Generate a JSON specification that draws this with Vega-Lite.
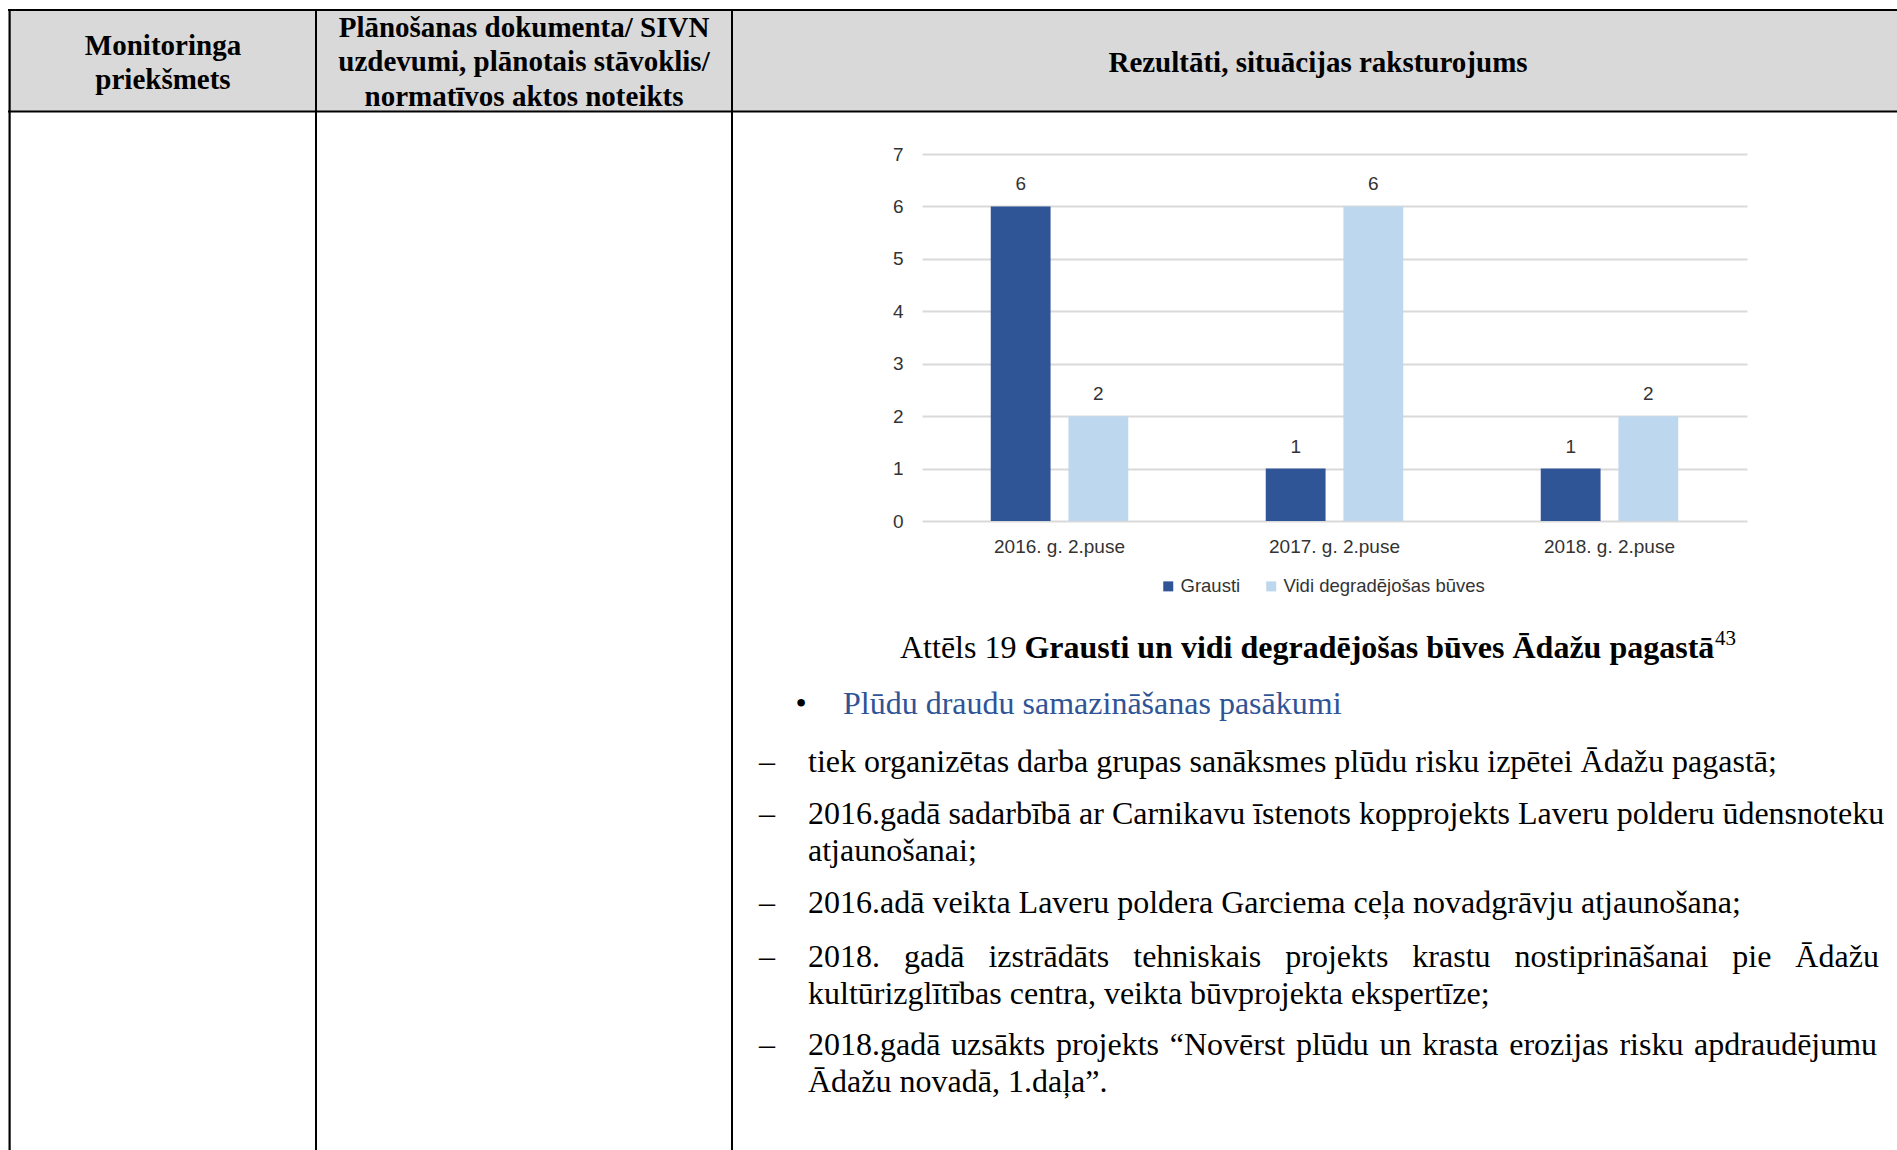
{
  "$schema": "https://vega.github.io/schema/vega-lite/v6.json",
  "width": 825,
  "height": 367,
  "autosize": {"type": "none"},
  "padding": {"left": 922, "top": 154, "right": 150, "bottom": 629},
  "background": "#ffffff",
  "config": {"view": {"stroke": null}},
  "datasets": {
    "bars": [
      {"period": "2016. g. 2.puse", "series": "Grausti", "value": 6},
      {"period": "2016. g. 2.puse", "series": "Vidi degradējošas būves", "value": 2},
      {"period": "2017. g. 2.puse", "series": "Grausti", "value": 1},
      {"period": "2017. g. 2.puse", "series": "Vidi degradējošas būves", "value": 6},
      {"period": "2018. g. 2.puse", "series": "Grausti", "value": 1},
      {"period": "2018. g. 2.puse", "series": "Vidi degradējošas būves", "value": 2}
    ]
  },
  "layer": [
    {"data": {"values": [{}]}, "mark": {"type": "rect", "x": -912, "x2": 975, "y": -144, "y2": -43, "fill": "#D9D9D9"}, "encoding": {}},
    {"data": {"values": [{}]}, "mark": {"type": "rect", "x": -914, "x2": 975, "y": -145, "y2": -143, "fill": "#000000"}, "encoding": {}},
    {"data": {"values": [{}]}, "mark": {"type": "rect", "x": -914, "x2": 975, "y": -43.5, "y2": -41.5, "fill": "#000000"}, "encoding": {}},
    {"data": {"values": [{}]}, "mark": {"type": "rect", "x": -913.5, "x2": -911.3, "y": -145, "y2": 1000, "fill": "#000000"}, "encoding": {}},
    {"data": {"values": [{}]}, "mark": {"type": "rect", "x": -607, "x2": -605, "y": -145, "y2": 1000, "fill": "#000000"}, "encoding": {}},
    {"data": {"values": [{}]}, "mark": {"type": "rect", "x": -191, "x2": -189, "y": -145, "y2": 1000, "fill": "#000000"}, "encoding": {}},
    {"data": {"values": [{}]}, "mark": {"type": "text", "text": ["Monitoringa", "priekšmets"], "x": -759, "y": -99.4, "align": "center", "baseline": "alphabetic", "lineHeight": 34, "font": "Liberation Serif", "fontWeight": "bold", "fontSize": 29, "fill": "#000000"}, "encoding": {}},
    {"data": {"values": [{}]}, "mark": {"type": "text", "text": ["Plānošanas dokumenta/ SIVN", "uzdevumi, plānotais stāvoklis/", "normatīvos aktos noteikts"], "x": -398, "y": -117.4, "align": "center", "baseline": "alphabetic", "lineHeight": 34.5, "font": "Liberation Serif", "fontWeight": "bold", "fontSize": 29, "fill": "#000000"}, "encoding": {}},
    {"data": {"values": [{}]}, "mark": {"type": "text", "text": "Rezultāti, situācijas raksturojums", "x": 396, "y": -82.4, "align": "center", "baseline": "alphabetic", "font": "Liberation Serif", "fontWeight": "bold", "fontSize": 29, "fill": "#000000"}, "encoding": {}},
    {
      "data": {"name": "bars"},
      "mark": {"type": "bar"},
      "encoding": {
        "x": {"field": "period", "type": "nominal", "scale": {"paddingInner": 0.5, "paddingOuter": 0.25},
          "axis": {"title": null, "labelAngle": 0, "domain": false, "ticks": false, "tickSize": 0, "labelPadding": 16, "labelFont": "Liberation Sans", "labelFontSize": 19, "labelColor": "#333333", "grid": false}},
        "xOffset": {"field": "series", "type": "nominal", "scale": {"paddingInner": 0.23, "paddingOuter": 0}},
        "y": {"field": "value", "type": "quantitative", "scale": {"domain": [0, 7], "nice": false},
          "axis": {"title": null, "values": [0, 1, 2, 3, 4, 5, 6, 7], "format": "d", "grid": true, "gridColor": "#D9D9D9", "gridWidth": 2, "domain": false, "ticks": false, "tickSize": 0, "labelPadding": 19, "labelFont": "Liberation Sans", "labelFontSize": 19, "labelColor": "#333333"}},
        "color": {"field": "series", "type": "nominal", "scale": {"domain": ["Grausti", "Vidi degradējošas būves"], "range": ["#2F5597", "#BDD7EE"]},
          "legend": {"title": null, "orient": "none", "legendX": 237, "legendY": 423, "direction": "horizontal", "symbolType": "square", "symbolSize": 100, "symbolStrokeWidth": 0, "labelOffset": 3, "labelFont": "Liberation Sans", "labelFontSize": 18.5, "labelColor": "#333333", "columnPadding": 21, "labelLimit": 400}}
      }
    },
    {
      "data": {"name": "bars"},
      "mark": {"type": "text", "baseline": "bottom", "dy": -12, "font": "Liberation Sans", "fontSize": 19, "fill": "#333333"},
      "encoding": {
        "x": {"field": "period", "type": "nominal"},
        "xOffset": {"field": "series", "type": "nominal"},
        "y": {"field": "value", "type": "quantitative"},
        "text": {"field": "value", "type": "quantitative"}
      }
    },
    {"data": {"values": [{}]}, "mark": {"type": "text", "text": "Attēls 19", "x": -22, "y": 503.6, "align": "left", "baseline": "alphabetic", "font": "Liberation Serif", "fontSize": 32, "fill": "#000000"}, "encoding": {}},
    {"data": {"values": [{}]}, "mark": {"type": "text", "text": "Grausti un vidi degradējošas būves Ādažu pagastā", "x": 102.4, "y": 503.6, "align": "left", "baseline": "alphabetic", "font": "Liberation Serif", "fontWeight": "bold", "fontSize": 32, "fill": "#000000"}, "encoding": {}},
    {"data": {"values": [{}]}, "mark": {"type": "text", "text": "43", "x": 793, "y": 491, "align": "left", "baseline": "alphabetic", "font": "Liberation Serif", "fontSize": 21, "fill": "#000000"}, "encoding": {}},
    {"data": {"values": [{}]}, "mark": {"type": "text", "text": "•", "x": -121, "y": 559.6, "align": "center", "baseline": "alphabetic", "font": "Liberation Serif", "fontSize": 32, "fill": "#000000"}, "encoding": {}},
    {"data": {"values": [{}]}, "mark": {"type": "text", "text": "Plūdu draudu samazināšanas pasākumi", "x": -79, "y": 559.6, "align": "left", "baseline": "alphabetic", "font": "Liberation Serif", "fontSize": 32, "fill": "#2F5496"}, "encoding": {}},
    {"data": {"values": [{}]}, "mark": {"type": "text", "text": "–", "x": -155, "y": 617.6, "align": "center", "baseline": "alphabetic", "font": "Liberation Serif", "fontSize": 32, "fill": "#000000"}, "encoding": {}},
    {"data": {"values": [{}]}, "mark": {"type": "text", "text": "–", "x": -155, "y": 669.6, "align": "center", "baseline": "alphabetic", "font": "Liberation Serif", "fontSize": 32, "fill": "#000000"}, "encoding": {}},
    {"data": {"values": [{}]}, "mark": {"type": "text", "text": "–", "x": -155, "y": 759.1, "align": "center", "baseline": "alphabetic", "font": "Liberation Serif", "fontSize": 32, "fill": "#000000"}, "encoding": {}},
    {"data": {"values": [{}]}, "mark": {"type": "text", "text": "–", "x": -155, "y": 812.6, "align": "center", "baseline": "alphabetic", "font": "Liberation Serif", "fontSize": 32, "fill": "#000000"}, "encoding": {}},
    {"data": {"values": [{}]}, "mark": {"type": "text", "text": "–", "x": -155, "y": 900.6, "align": "center", "baseline": "alphabetic", "font": "Liberation Serif", "fontSize": 32, "fill": "#000000"}, "encoding": {}},
    {"data": {"values": [{}]}, "mark": {"type": "text", "text": "tiek organizētas darba grupas sanāksmes plūdu risku izpētei Ādažu pagastā;", "x": -114, "y": 617.6, "align": "left", "baseline": "alphabetic", "font": "Liberation Serif", "fontSize": 32, "fill": "#000000"}, "encoding": {}},
    {"data": {"values": [{}]}, "mark": {"type": "text", "text": ["2016.gadā sadarbībā ar Carnikavu īstenots kopprojekts Laveru polderu ūdensnoteku", "atjaunošanai;"], "x": -114, "y": 669.6, "lineHeight": 37.5, "align": "left", "baseline": "alphabetic", "font": "Liberation Serif", "fontSize": 32, "fill": "#000000"}, "encoding": {}},
    {"data": {"values": [{}]}, "mark": {"type": "text", "text": "2016.adā veikta Laveru poldera Garciema ceļa novadgrāvju atjaunošana;", "x": -114, "y": 759.1, "align": "left", "baseline": "alphabetic", "font": "Liberation Serif", "fontSize": 32, "fill": "#000000"}, "encoding": {}},
    {"data": {"values": [{}]}, "mark": {"type": "text", "text": ["2018.\u2002 gadā\u2002 izstrādāts\u2002 tehniskais\u2002 projekts\u2002 krastu\u2002 nostiprināšanai\u2002 pie\u2002 Ādažu", "kultūrizglītības centra, veikta būvprojekta ekspertīze;"], "x": -114, "y": 812.6, "lineHeight": 37, "align": "left", "baseline": "alphabetic", "font": "Liberation Serif", "fontSize": 32, "fill": "#000000"}, "encoding": {}},
    {"data": {"values": [{}]}, "mark": {"type": "text", "text": ["2018.gadā\u2004uzsākts\u2004projekts\u2004“Novērst\u2004plūdu\u2004un\u2004krasta\u2004erozijas\u2004risku\u2004apdraudējumu", "Ādažu novadā, 1.daļa”."], "x": -114, "y": 900.6, "lineHeight": 37.5, "align": "left", "baseline": "alphabetic", "font": "Liberation Serif", "fontSize": 32, "fill": "#000000"}, "encoding": {}}
  ]
}
